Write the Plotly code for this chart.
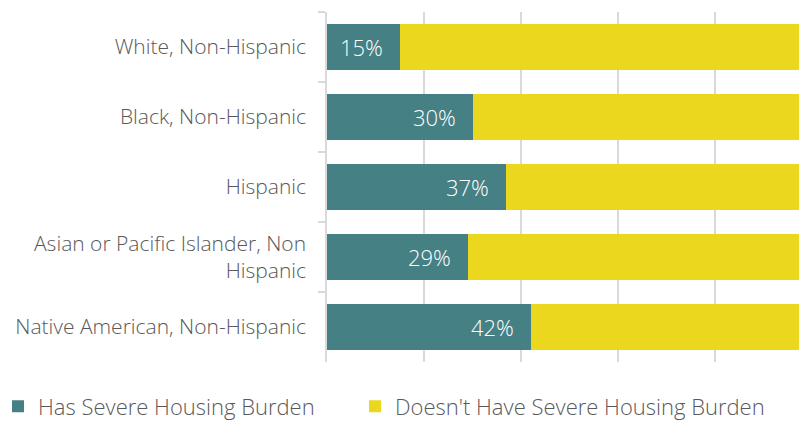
import plotly.graph_objects as go

categories = [
    "White, Non-Hispanic",
    "Black, Non-Hispanic",
    "Hispanic",
    "Asian or Pacific Islander, Non<br>Hispanic",
    "Native American, Non-Hispanic",
]
has_burden = [0.15, 0.30, 0.37, 0.29, 0.42]
no_burden = [1 - v for v in has_burden]
series_names = ["Has Severe Housing Burden", "Doesn't Have Severe Housing Burden"]

teal = "#458084"
yellow = "#EAD71E"
grey_text = "#595959"
font_family = "'Open Sans', sans-serif"

W, H = 791, 414
ML, MT, MB = 319, 4, 60
plot_w = W - ML
plot_h = H - MT - MB

fig = go.Figure()
fig.add_trace(go.Bar(
    y=categories, x=has_burden, orientation="h", name=series_names[0],
    marker=dict(color=teal, line=dict(width=0)),
    hoverinfo="skip", legendwidth=312,
))
fig.add_trace(go.Bar(
    y=categories, x=no_burden, orientation="h", name=series_names[1],
    marker=dict(color=yellow, line=dict(width=0)),
    hoverinfo="skip", legendwidth=380,
))

for cat, v in zip(categories, has_burden):
    fig.add_annotation(
        x=v, y=cat, xref="x", yref="y", text=f"{round(v*100)}%",
        showarrow=False, xanchor="right", xshift=-15,
        font=dict(color="white", size=22, family=font_family, weight=300),
    )

fig.update_layout(
    barmode="stack",
    bargap=0.33,
    width=W, height=H,
    margin=dict(l=ML, r=0, t=MT, b=MB, autoexpand=False),
    plot_bgcolor="white", paper_bgcolor="white",
    font=dict(family=font_family, color=grey_text),
    showlegend=True,
    legend=dict(
        orientation="h", xref="paper", yref="paper",
        x=-10 / plot_w - ML / plot_w, xanchor="left",
        y=-23.5 / plot_h, yanchor="top",
        font=dict(size=22, color=grey_text, family=font_family, weight=300),
        traceorder="normal", entrywidthmode="pixels",
        itemwidth=30, bgcolor="rgba(0,0,0,0)",
    ),
    xaxis=dict(
        range=[0, (799 - 327) / 485], showgrid=True, gridcolor="#D9D9D9", gridwidth=1.5,
        tickvals=[0.2, 0.4, 0.6, 0.8], showticklabels=False,
        ticks="", zeroline=False, showline=False,
    ),
    yaxis=dict(
        autorange="reversed", showline=True, linecolor="#D9D9D9", linewidth=1.5,
        ticks="outside", tickson="boundaries", ticklen=7, tickcolor="#D9D9D9", tickwidth=1.5,
        tickfont=dict(size=21, color=grey_text, family=font_family, weight=300),
        ticklabelstandoff=15,
    ),
)

fig.write_html("out.html")
